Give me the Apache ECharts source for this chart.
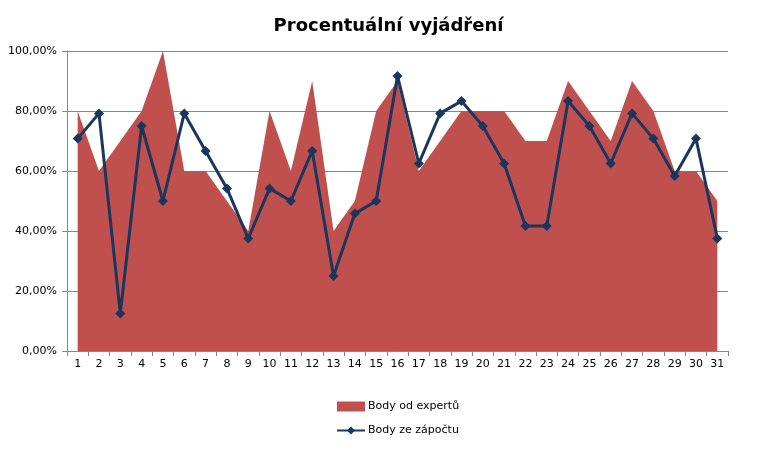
<!DOCTYPE html>
<html>
  <head>
    <meta charset="utf-8" />
    <title>Procentuální vyjádření</title>
    <script src="https://cdn.jsdelivr.net/npm/echarts@6/dist/echarts.min.js"></script>
  </head>
  <body style="margin: 0">
    <div id="main" style="width: 777px; height: 454px"></div>
    <script type="text/javascript">
      var chartDom = document.getElementById('main');
      var myChart = echarts.init(chartDom);
      var option;

      // data
      const days = [];
      for (let i = 1; i <= 31; i++) days.push(String(i));
      const expertPoints = [
        80, 60, 70, 80, 100, 60, 60, 50, 40, 80, 60, 90, 40, 50, 80, 90,
        60, 70, 80, 80, 80, 70, 70, 90, 80, 70, 90, 80, 60, 60, 50
      ];
      const creditPoints = [
        70.8, 79.2, 12.5, 75, 50, 79.2, 66.7, 54.2, 37.5, 54.2, 50, 66.7,
        25, 45.8, 50, 91.7, 62.5, 79.2, 83.3, 75, 62.5, 41.7, 41.7, 83.3,
        75, 62.5, 79.2, 70.8, 58.3, 70.8, 37.5
      ];
      const yTicks = [0, 20, 40, 60, 80, 100];

      const font = 'DejaVu Sans';

      option = {
        backgroundColor: '#fff',
        animation: false,
        title: {
          text: 'Procentuální vyjádření',
          left: 'center',
          top: 12,
          textStyle: {
            fontFamily: font,
            fontSize: 18,
            fontWeight: 'bold',
            color: '#000'
          }
        },
        legend: {
          orient: 'vertical',
          left: 331,
          top: 396,
          itemGap: 13,
          itemWidth: 28,
          itemHeight: 10,
          textStyle: { fontFamily: font, fontSize: 11, color: '#000', padding: [0, 0, 0, -2] },
          data: [
            { name: 'Body od expertů', icon: 'rect', itemStyle: { color: '#c0504d' } },
            { name: 'Body ze zápočtu' }
          ]
        },
        grid: {
          left: 67,
          right: 49,
          top: 51,
          bottom: 103
        },
        xAxis: {
          type: 'category',
          data: days,
          boundaryGap: true,
          axisLine: { lineStyle: { color: '#868686', width: 1 } },
          axisTick: { show: true, alignWithLabel: false, length: 5, lineStyle: { color: '#868686' } },
          axisLabel: { fontFamily: font, fontSize: 11, color: '#000', interval: 0, margin: 8 },
          splitLine: { show: false }
        },
        yAxis: {
          type: 'value',
          min: yTicks[0],
          max: yTicks[yTicks.length - 1],
          interval: 20,
          axisLine: { show: true, lineStyle: { color: '#868686', width: 1 } },
          axisTick: { show: true, length: 5, lineStyle: { color: '#868686' } },
          axisLabel: {
            fontFamily: font,
            fontSize: 11,
            color: '#000',
            margin: 10,
            formatter: function (v) {
              return v.toFixed(2).replace('.', ',') + '%';
            }
          },
          splitLine: { lineStyle: { color: '#868686', width: 1 } }
        },
        series: [
          {
            name: 'Body od expertů',
            type: 'line',
            data: expertPoints,
            symbol: 'none',
            lineStyle: { width: 0 },
            itemStyle: { color: '#c0504d' },
            areaStyle: { color: '#c0504d', opacity: 1 },
            z: 1
          },
          {
            name: 'Body ze zápočtu',
            type: 'line',
            data: creditPoints,
            symbol: 'diamond',
            symbolSize: 10,
            lineStyle: { color: '#1b365d', width: 3 },
            itemStyle: { color: '#1b365d' },
            z: 3
          }
        ]
      };

      option && myChart.setOption(option);
    </script>
  </body>
</html>
